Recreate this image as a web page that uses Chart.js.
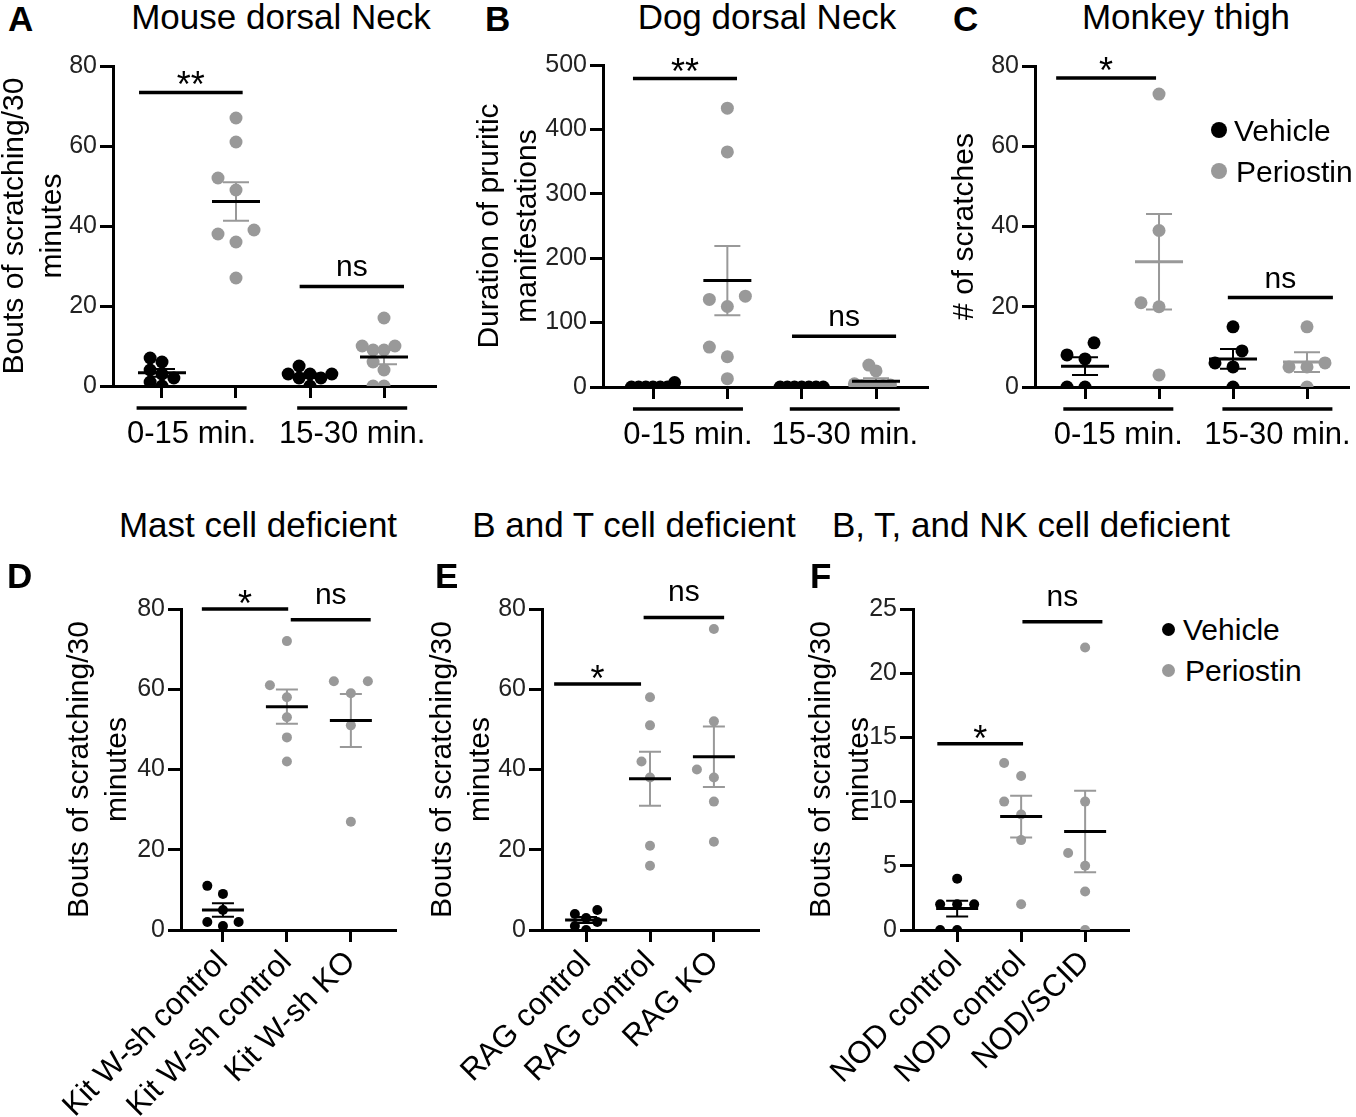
<!DOCTYPE html>
<html>
<head>
<meta charset="utf-8">
<title>Periostin-induced scratching</title>
<script src="https://cdn.jsdelivr.net/npm/chart.js"></script>
<style>
  body { margin: 0; width: 1356px; height: 1117px; position: relative; overflow: hidden; background: #fff;
         font-family: 'Liberation Sans', Arial, sans-serif; color: #000; }
  canvas { position: absolute; }
  .t { position: absolute; white-space: nowrap; line-height: 1; }
  .dot { position: absolute; border-radius: 50%; }
</style>
</head>
<body>
<script>
// top row: two time windows, vehicle vs periostin
const timeWindows = ['0-15 min.', '15-30 min.'];
const mouseVehicle = [[4, 3, 0, 6, 7, 2, 1], [2, 3, 3, 5, 3, 0, 2]];
const mousePeriostin = [[67, 61, 52, 49, 39, 38, 36, 27], [17, 10, 9, 9, 10, 6, 4, 0, 0]];
const dogVehicle = [[0, 7, 0, 0, 0, 0, 0], [0, 0, 0, 0, 0, 0, 0]];
const dogPeriostin = [[433, 365, 141, 136, 125, 62, 47, 13], [34, 25, 5, 3, 2, 2, 0, 0]];
const monkeyVehicle = [[11, 8, 7, 0, 0], [15, 9, 6, 5, 0]];
const monkeyPeriostin = [[73, 39, 21, 20, 3], [15, 6, 5, 5, 0]];

// bottom row: vehicle in controls, periostin in controls, periostin in deficient mice
const mastGroups = ['Kit W-sh control', 'Kit W-sh control', 'Kit W-sh KO'];
const mastVehicle = [11, 9, 5, 2, 2, 1];
const mastPeriostin = [[72, 61, 58, 53, 48, 42], [62, 62, 59, 51, 27]];
const ragGroups = ['RAG control', 'RAG control', 'RAG KO'];
const ragVehicle = [5, 4, 3, 2, 1, 0];
const ragPeriostin = [[58, 51, 42, 38, 21, 16], [75, 52, 40, 38, 32, 22]];
const nodGroups = ['NOD control', 'NOD control', 'NOD/SCID'];
const nodVehicle = [4, 2, 2, 2, 0, 0];
const nodPeriostin = [[13, 12, 10, 9, 7, 2], [22, 10, 6, 5, 3, 0]];

const ticks80 = [0, 20, 40, 60, 80];
const ticks500 = [0, 100, 200, 300, 400, 500];
const ticks25 = [0, 5, 10, 15, 20, 25];

const FONT = "'Liberation Sans', Arial, sans-serif";
const BLACK = '#000';
const GREY = '#999';
const boutsTitle = ['Bouts of scratching/30', 'minutes'];

Chart.defaults.font.family = FONT;
Chart.defaults.color = '#000';

const mean = a => a.reduce((s, v) => s + v, 0) / a.length;
const sem = a => {
    const m = mean(a);
    return Math.sqrt(a.reduce((s, v) => s + (v - m) ** 2, 0) / (a.length - 1) / a.length);
};

// simple beeswarm, in pixels: nearest free half-step, squeezed if too wide
function beeswarm(ys, step, limit) {
    let t = step;
    for (;;) {
        const order = ys.map((y, i) => i).sort((a, b) => ys[b] - ys[a]);
        const offs = [];
        const placed = [];
        let widest = 0;
        for (const i of order) {
            let off = 0;
            for (let n = 0; n < 80; n++) {
                off = (n === 0 ? 0 : (n % 2 ? -1 : 1) * Math.ceil(n / 2)) * t / 2;
                if (placed.every(p => Math.hypot(p.x - off, p.y - ys[i]) >= t * 0.999)) break;
            }
            offs[i] = off;
            placed.push({x: off, y: ys[i]});
            widest = Math.max(widest, Math.abs(off));
        }
        if (widest <= limit || t < 3) return offs;
        t *= 0.92;
    }
}

function groupIndex(ds) {
    const byGroup = {};
    ds.data.forEach((p, i) => (byGroup[p.x] = byGroup[p.x] || []).push(i));
    return byGroup;
}

function makeSwarm(p) {
    return {
        id: 'swarm',
        afterDatasetsUpdate(chart) {
            const xs = chart.scales.x;
            chart.data.datasets.forEach((ds, di) => {
                const meta = chart.getDatasetMeta(di);
                const groups = groupIndex(ds);
                Object.keys(groups).forEach(g => {
                    const idx = groups[g];
                    const offs = beeswarm(idx.map(i => meta.data[i].y), p.step, p.limit);
                    const cx = xs.getPixelForValue(+g);
                    idx.forEach((i, k) => { meta.data[i].x = cx + offs[k]; });
                });
            });
        }
    };
}

function makeSummary(p) {
    return {
        id: 'summary',
        afterDatasetsDraw(chart) {
            const {ctx, scales: {x, y}} = chart;
            ctx.save();
            ctx.lineCap = 'butt';
            chart.data.datasets.forEach(ds => {
                const groups = groupIndex(ds);
                Object.keys(groups).forEach(g => {
                    const vals = groups[g].map(i => ds.data[i].y);
                    const m = mean(vals), s = sem(vals);
                    const cx = x.getPixelForValue(+g);
                    const top = y.getPixelForValue(m + s), bot = y.getPixelForValue(m - s);
                    ctx.strokeStyle = ds.errColor;
                    ctx.lineWidth = 2;
                    ctx.beginPath();
                    ctx.moveTo(cx, top); ctx.lineTo(cx, bot);
                    ctx.moveTo(cx - p.cap, top); ctx.lineTo(cx + p.cap, top);
                    ctx.moveTo(cx - p.cap, bot); ctx.lineTo(cx + p.cap, bot);
                    ctx.stroke();
                    const my = y.getPixelForValue(m);
                    ctx.strokeStyle = ds.meanColor;
                    ctx.lineWidth = 3;
                    ctx.beginPath();
                    ctx.moveTo(cx - p.meanHalf, my); ctx.lineTo(cx + p.meanHalf, my);
                    ctx.stroke();
                });
            });
            ctx.restore();
        }
    };
}

function makeMarks(p) {
    return {
        id: 'marks',
        afterDraw(chart) {
            const {ctx, chartArea, scales: {x, y}} = chart;
            ctx.save();
            ctx.strokeStyle = BLACK;
            ctx.fillStyle = BLACK;
            ctx.lineWidth = 3.5;
            ctx.textAlign = 'center';
            ctx.textBaseline = 'alphabetic';
            p.sig.forEach(([from, to, level, text]) => {
                const x0 = x.getPixelForValue(from), x1 = x.getPixelForValue(to);
                const yy = y.getPixelForValue(level);
                ctx.beginPath();
                ctx.moveTo(x0, yy); ctx.lineTo(x1, yy);
                ctx.stroke();
                const star = text.includes('*');
                ctx.font = (star ? 36 : 30) + 'px ' + FONT;
                ctx.fillText(text, (x0 + x1) / 2, yy + (star ? p.starDy : p.nsDy));
            });
            if (p.windowCenters) {
                ctx.font = '31px ' + FONT;
                p.windowCenters.forEach((c, i) => {
                    const cx = x.getPixelForValue(c);
                    const ly = chartArea.bottom + 22;
                    ctx.beginPath();
                    ctx.moveTo(cx - 55, ly); ctx.lineTo(cx + 55, ly);
                    ctx.stroke();
                    ctx.fillText(timeWindows[i], cx, chartArea.bottom + 57);
                });
            }
            ctx.restore();
        }
    };
}

function toPoints(groups) {
    return groups.flatMap(g => g.values.map(v => ({x: g.pos, y: v})));
}

function buildPanel(p) {
    const [left, top, w, h] = p.box;
    const cv = document.createElement('canvas');
    cv.width = w;
    cv.height = h;
    cv.style.left = left + 'px';
    cv.style.top = top + 'px';
    document.body.appendChild(cv);

    const yWidth = p.axisLeft - left;
    const xHeight = top + h - p.plotBottom;
    const titlePad = Math.max(0, p.titleMid - left - 19);
    const xTicks = p.xLabels ? [0, 1, 2] : [0, 1, 2, 3];

    new Chart(cv, {
        type: 'scatter',
        data: {
            datasets: [
                {label: 'Vehicle', data: toPoints(p.vehicle), backgroundColor: BLACK,
                 meanColor: BLACK, errColor: BLACK},
                {label: 'Periostin', data: toPoints(p.periostin), backgroundColor: GREY,
                 meanColor: p.perMean || BLACK, errColor: GREY}
            ]
        },
        options: {
            responsive: false,
            devicePixelRatio: 1,
            animation: false,
            events: [],
            layout: {padding: {left: 0, top: p.plotTop - top, right: left + w - p.plotRight, bottom: 0}},
            elements: {point: {radius: p.r, hoverRadius: p.r, borderWidth: 0}},
            plugins: {legend: {display: false}, tooltip: {enabled: false}},
            scales: {
                x: {
                    type: 'linear',
                    min: p.xRange[0],
                    max: p.xRange[1],
                    afterBuildTicks: s => { s.ticks = xTicks.map(v => ({value: v})); },
                    afterFit: s => { s.height = xHeight; s.paddingLeft = 0; s.paddingRight = 0; },
                    border: {display: true, color: BLACK, width: 3},
                    grid: {drawOnChartArea: false, drawTicks: true, tickLength: 12, color: BLACK, lineWidth: 3},
                    ticks: {
                        display: !!p.xLabels,
                        autoSkip: false,
                        minRotation: 45,
                        maxRotation: 45,
                        padding: 2,
                        color: BLACK,
                        font: {size: 31},
                        callback: v => (p.xLabels ? p.xLabels[v] : '')
                    }
                },
                y: {
                    min: p.yTicks[0],
                    max: p.yTicks[p.yTicks.length - 1],
                    afterBuildTicks: s => { s.ticks = p.yTicks.map(v => ({value: v})); },
                    afterFit: s => { s.width = yWidth; s.paddingTop = 0; s.paddingBottom = 0; },
                    border: {display: true, color: BLACK, width: 3},
                    grid: {drawOnChartArea: false, drawTicks: true, tickLength: 13, color: BLACK, lineWidth: 3},
                    ticks: {padding: 3, color: '#222', font: {size: 25}},
                    title: {
                        display: true,
                        text: p.yTitle,
                        color: BLACK,
                        font: {size: 30, lineHeight: 1.27},
                        padding: {top: titlePad, bottom: 0}
                    }
                }
            }
        },
        plugins: [makeSwarm(p), makeSummary(p), makeMarks(p)]
    });
}

const topRow = {r: 6.5, step: 18, limit: 22, cap: 13, meanHalf: 24, starDy: 5, nsDy: -10};
const bottomRow = {r: 5, step: 17, limit: 19, cap: 11, meanHalf: 21, starDy: 7, nsDy: -16};

const panels = [
    Object.assign({}, topRow, {
        box: [-4, 40, 449, 440], axisLeft: 113, plotRight: 435, plotTop: 66, plotBottom: 386,
        titleMid: 14.6, yTitle: boutsTitle, yTicks: ticks80, xRange: [-0.662, 3.689],
        vehicle: [{pos: 0, values: mouseVehicle[0]}, {pos: 2, values: mouseVehicle[1]}],
        periostin: [{pos: 1, values: mousePeriostin[0]}, {pos: 3, values: mousePeriostin[1]}],
        sig: [[-0.31, 1.09, 73.4, '**'], [1.86, 3.27, 24.9, 'ns']],
        windowCenters: [0.40, 2.57]
    }),
    Object.assign({}, topRow, {
        box: [471, 40, 464, 440], axisLeft: 603, plotRight: 927, plotTop: 65, plotBottom: 387,
        titleMid: 489.6, yTitle: ['Duration of pruritic', 'manifestations'], yTicks: ticks500,
        xRange: [-0.673, 3.686],
        vehicle: [{pos: 0, values: dogVehicle[0]}, {pos: 2, values: dogVehicle[1]}],
        periostin: [{pos: 1, values: dogPeriostin[0]}, {pos: 3, values: dogPeriostin[1]}],
        sig: [[-0.27, 1.13, 479, '**'], [1.87, 3.27, 78.7, 'ns']],
        windowCenters: [0.47, 2.58]
    }),
    Object.assign({}, topRow, {
        box: [946, 40, 410, 440], axisLeft: 1035, plotRight: 1348, plotTop: 66, plotBottom: 387,
        titleMid: 964.6, yTitle: '# of scratches', yTicks: ticks80, xRange: [-0.676, 3.554],
        vehicle: [{pos: 0, values: monkeyVehicle[0]}, {pos: 2, values: monkeyVehicle[1]}],
        periostin: [{pos: 1, values: monkeyPeriostin[0]}, {pos: 3, values: monkeyPeriostin[1]}],
        perMean: GREY,
        sig: [[-0.39, 0.96, 77, '*'], [1.93, 3.35, 22.3, 'ns']],
        windowCenters: [0.45, 2.60]
    }),
    Object.assign({}, bottomRow, {
        box: [30, 560, 390, 557], axisLeft: 181, plotRight: 395, plotTop: 609, plotBottom: 930,
        titleMid: 79.6, yTitle: boutsTitle, yTicks: ticks80, xRange: [-0.656, 2.69],
        xLabels: mastGroups,
        vehicle: [{pos: 0, values: mastVehicle}],
        periostin: [{pos: 1, values: mastPeriostin[0]}, {pos: 2, values: mastPeriostin[1]}],
        sig: [[-0.33, 1.02, 80, '*'], [1.06, 2.31, 77.3, 'ns']]
    }),
    Object.assign({}, bottomRow, {
        box: [424, 560, 376, 557], axisLeft: 542, plotRight: 758, plotTop: 609, plotBottom: 930,
        titleMid: 443, yTitle: boutsTitle, yTicks: ticks80, xRange: [-0.69, 2.69],
        xLabels: ragGroups,
        vehicle: [{pos: 0, values: ragVehicle}],
        periostin: [{pos: 1, values: ragPeriostin[0]}, {pos: 2, values: ragPeriostin[1]}],
        sig: [[-0.5, 0.86, 61.3, '*'], [0.9, 2.16, 77.9, 'ns']]
    }),
    Object.assign({}, bottomRow, {
        box: [803, 560, 340, 557], axisLeft: 913, plotRight: 1128, plotTop: 609, plotBottom: 930,
        titleMid: 822, yTitle: boutsTitle, yTicks: ticks25, xRange: [-0.69, 2.67],
        xLabels: nodGroups,
        vehicle: [{pos: 0, values: nodVehicle}],
        periostin: [{pos: 1, values: nodPeriostin[0]}, {pos: 2, values: nodPeriostin[1]}],
        sig: [[-0.31, 1.03, 14.5, '*'], [1.02, 2.27, 24, 'ns']]
    })
];

panels.forEach(buildPanel);

// headings, panel letters and legends
function addText(str, x, base, size, opt = {}) {
    const d = document.createElement('div');
    d.className = 't';
    d.textContent = str;
    d.style.fontSize = size + 'px';
    if (opt.bold) d.style.fontWeight = 'bold';
    d.style.top = (base - 0.8465 * size) + 'px';
    d.style.left = x + 'px';
    if (opt.center) d.style.transform = 'translateX(-50%)';
    document.body.appendChild(d);
}

function addDot(cx, cy, r, color) {
    const d = document.createElement('div');
    d.className = 'dot';
    Object.assign(d.style, {left: (cx - r) + 'px', top: (cy - r) + 'px',
        width: 2 * r + 'px', height: 2 * r + 'px', background: color});
    document.body.appendChild(d);
}

[['Mouse dorsal Neck', 281, 29], ['Dog dorsal Neck', 767, 29], ['Monkey thigh', 1186, 29],
 ['Mast cell deficient', 258, 537], ['B and T cell deficient', 634, 537],
 ['B, T, and NK cell deficient', 1031, 537]].forEach(([s, x, b]) => addText(s, x, b, 35, {center: true}));

[['A', 8, 31], ['B', 485, 31], ['C', 953, 31], ['D', 7, 588], ['E', 435, 588], ['F', 810, 588]]
    .forEach(([s, x, b]) => addText(s, x, b, 35, {bold: true}));

addDot(1219, 130, 8, BLACK); addText('Vehicle', 1234, 141, 30);
addDot(1219, 171, 8, GREY); addText('Periostin', 1236, 182, 30);
addDot(1168, 629, 6.5, BLACK); addText('Vehicle', 1183, 640, 30);
addDot(1168, 670, 6.5, GREY); addText('Periostin', 1185, 681, 30);
</script>
</body>
</html>
